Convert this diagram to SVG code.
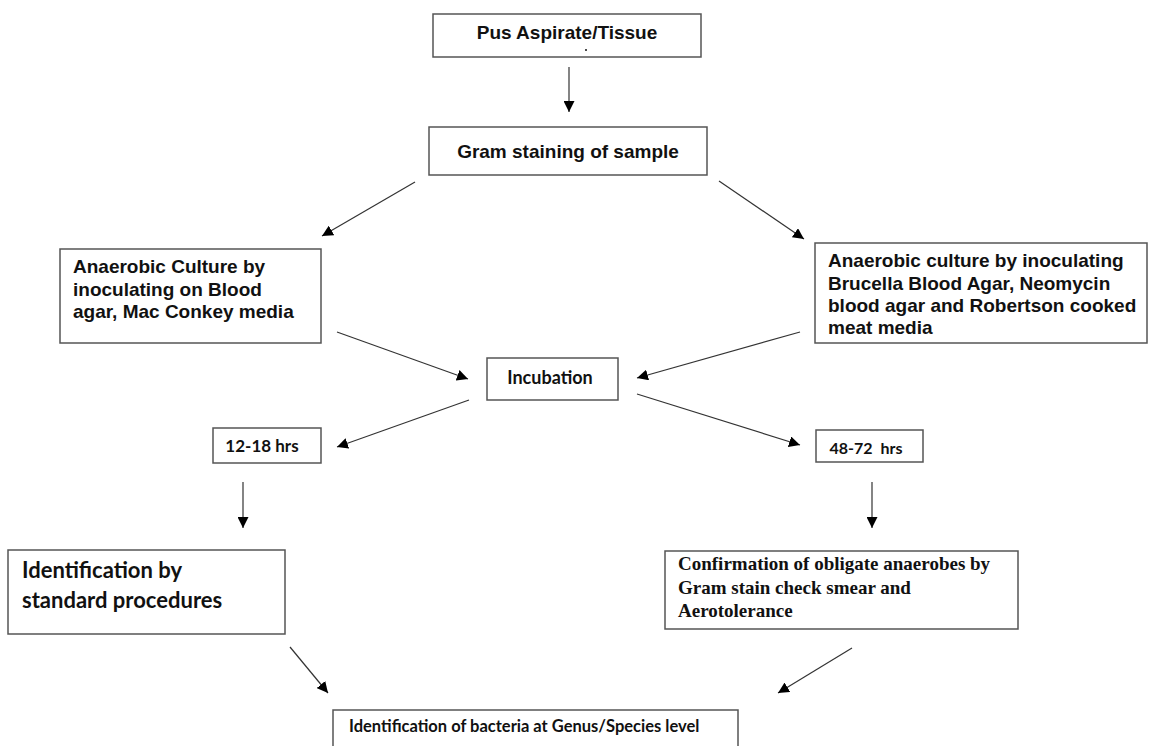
<svg xmlns="http://www.w3.org/2000/svg" width="1150" height="746" viewBox="0 0 1150 746">
<defs>
<marker id="ah" viewBox="0 0 10 10" refX="10" refY="5" markerWidth="11" markerHeight="11" markerUnits="userSpaceOnUse" orient="auto">
<path d="M0,0 L10,5 L0,10 Z" fill="#000"/>
</marker>
</defs>
<style>
.box{fill:#fff;stroke:#555;stroke-width:1.5}
.ar{font-family:"Liberation Sans",Arial,sans-serif;font-weight:bold;font-size:19px;fill:#111}
.cal{font-family:Lato,"Open Sans",sans-serif;font-weight:bold;fill:#111}
.tm{font-family:"Liberation Serif","Times New Roman",serif;font-weight:bold;font-size:19px;fill:#111}
.conn line{stroke:#333;stroke-width:1.2;marker-end:url(#ah)}
</style>
<rect width="1150" height="746" fill="#fff"/>
<g id="n1">
<rect class="box" x="433" y="14" width="268" height="43"/>
<text class="ar" x="567" y="39" text-anchor="middle">Pus Aspirate/Tissue</text>
<circle cx="586" cy="50" r="1" fill="#111"/>
</g>
<g id="n2">
<rect class="box" x="429" y="127" width="278" height="48"/>
<text class="ar" x="568" y="158" text-anchor="middle">Gram staining of sample</text>
</g>
<g id="n3">
<rect class="box" x="60" y="249" width="261" height="94"/>
<text class="ar" x="73" y="273">Anaerobic Culture by</text>
<text class="ar" x="73" y="296">inoculating on Blood</text>
<text class="ar" x="73" y="318">agar, Mac Conkey media</text>
</g>
<g id="n4">
<rect class="box" x="815" y="243" width="332" height="100"/>
<text class="ar" x="828" y="267">Anaerobic culture by inoculating</text>
<text class="ar" x="828" y="290">Brucella Blood Agar, Neomycin</text>
<text class="ar" x="828" y="312">blood agar and Robertson cooked</text>
<text class="ar" x="828" y="334">meat media</text>
</g>
<g id="n5">
<rect class="box" x="487" y="358" width="131" height="42"/>
<text class="cal" x="550" y="384" font-size="18" text-anchor="middle">Incubation</text>
</g>
<g id="n6">
<rect class="box" x="213" y="428" width="108" height="35"/>
<text class="cal" x="262" y="452" font-size="17" text-anchor="middle">12-18 hrs</text>
</g>
<g id="n7">
<rect class="box" x="816" y="430" width="107" height="32"/>
<text class="cal" x="866" y="454" font-size="16" text-anchor="middle" word-spacing="4">48-72 hrs</text>
</g>
<g id="n8">
<rect class="box" x="8" y="550" width="277" height="84"/>
<text class="cal" x="22" y="578" font-size="22">Identification by</text>
<text class="cal" x="22" y="608" font-size="22">standard procedures</text>
</g>
<g id="n9">
<rect class="box" x="665" y="551" width="353" height="78"/>
<text class="tm" x="678" y="570">Confirmation of obligate anaerobes by</text>
<text class="tm" x="678" y="594">Gram stain check smear and</text>
<text class="tm" x="678" y="617">Aerotolerance</text>
</g>
<g id="n10">
<rect class="box" x="333" y="710" width="405" height="45"/>
<text class="cal" x="349" y="732" font-size="16.5">Identification of bacteria at  Genus/Species level</text>
</g>
<g class="conn" id="connectors">
<line x1="569" y1="67" x2="569" y2="112"/>
<line x1="415" y1="182" x2="322" y2="236"/>
<line x1="719" y1="181" x2="804" y2="239"/>
<line x1="337" y1="332" x2="468" y2="379"/>
<line x1="800" y1="332" x2="637" y2="378"/>
<line x1="469" y1="400" x2="337" y2="447"/>
<line x1="637" y1="394" x2="800" y2="445"/>
<line x1="243" y1="482" x2="243" y2="528"/>
<line x1="872" y1="482" x2="872" y2="528"/>
<line x1="290" y1="647" x2="328" y2="693"/>
<line x1="852" y1="648" x2="778" y2="693"/>
</g>
</svg>
